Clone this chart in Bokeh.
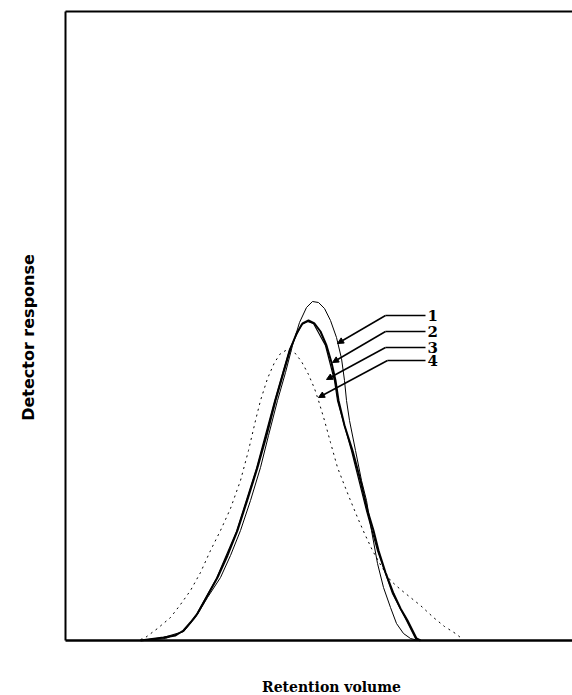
import math
from bokeh.plotting import figure
from bokeh.models import Range1d, Arrow, NormalHead
from bokeh.core.properties import value
from bokeh.embed import file_html
from bokeh.resources import INLINE

# Curve 1 (thin solid)
c1_x = [8.0, 10.0, 11.8, 13.0, 14.2, 15.5, 16.5, 17.5, 18.5, 19.5, 20.3, 21.2, 22.0, 22.7, 23.4, 24.1,
        24.7, 25.3, 25.9, 26.5, 27.1, 27.6, 27.9, 28.1, 28.4, 29.0, 29.6, 30.1, 30.6, 31.2, 31.8, 32.5,
        33.1, 33.8, 34.5, 35.3]
c1_y = [0.0, 0.2, 0.9, 2.3, 4.3, 6.3, 8.5, 11.0, 14.0, 17.3, 20.5, 24.0, 26.8, 29.5, 31.8, 33.3,
        33.9, 33.8, 33.2, 32.0, 30.3, 28.2, 26.0, 24.0, 22.0, 19.0, 16.0, 14.0, 11.0, 7.7, 5.3, 3.3,
        1.7, 0.7, 0.2, 0.0]

# Curve 2 (thick solid)
c2_x = [7.5, 9.8, 11.0, 11.8, 12.5, 13.2, 14.2, 15.2, 16.2, 17.2, 18.2, 19.2, 20.1, 21.0, 21.8, 22.5,
        23.1, 23.7, 24.3, 24.9, 25.5, 26.1, 26.6, 27.0, 27.3, 27.9, 28.7, 29.5, 30.2, 30.8, 31.3, 32.0,
        32.8, 33.5, 34.2, 34.7, 35.1, 35.5]
c2_y = [0.0, 0.3, 0.5, 1.0, 1.8, 2.7, 4.5, 6.3, 8.5, 11.0, 14.1, 17.3, 20.5, 24.0, 26.8, 29.2,
        30.7, 31.7, 32.0, 31.7, 30.9, 29.5, 27.8, 26.0, 24.0, 21.5, 19.0, 16.0, 13.0, 11.0, 9.0, 6.8,
        4.7, 3.2, 2.0, 1.0, 0.2, 0.0]

# Curve 3 (solid, nearly coincident with curve 2)
c3_x = [7.5, 9.8, 11.8, 13.1, 15.1, 17.1, 19.1, 20.9, 22.4, 23.6, 24.2, 24.8, 26.0, 26.9, 27.2, 28.6,
        30.1, 31.2, 32.7, 34.1, 35.0, 35.5]
c3_y = [0.0, 0.3, 0.9, 2.6, 6.2, 10.9, 17.2, 23.9, 29.1, 31.6, 31.9, 31.7, 29.5, 26.0, 24.0, 19.0,
        13.0, 9.0, 4.7, 2.0, 0.2, 0.0]

# Curve 4 (dotted)
c4_x = [7.5, 8.0, 9.2, 10.5, 11.5, 12.5, 13.5, 14.5, 15.5, 16.5, 17.5, 18.3, 19.0, 19.5, 20.2, 20.9,
        21.5, 22.2, 22.9, 23.6, 24.3, 24.9, 25.3, 25.9, 26.5, 27.2, 27.9, 28.5, 29.2, 29.9, 30.7, 31.6,
        32.5, 33.5, 34.5, 35.5, 36.8, 37.9, 39.0, 39.5]
c4_y = [0.1, 0.3, 1.2, 2.3, 3.6, 5.0, 6.8, 9.0, 11.0, 13.2, 16.0, 19.0, 22.0, 24.0, 26.2, 27.8,
        28.7, 29.1, 28.8, 27.9, 26.6, 25.2, 24.0, 22.0, 19.8, 17.3, 15.5, 14.0, 12.3, 10.7, 9.0, 7.4,
        6.0, 5.1, 4.3, 3.5, 2.3, 1.4, 0.7, 0.3]

# Curve labels with pointer arrows
curve_labels = ["1", "2", "3", "4"]
label_y = [32.5, 30.9, 29.3, 28.0]
arrow_tail_x = [32.0, 32.0, 32.0, 32.2]
arrow_tip_x = [27.2, 26.7, 26.1, 25.3]
arrow_tip_y = [29.7, 27.8, 26.1, 24.3]
leader_end_x = 36.0
label_x = 36.2

x_title = "Retention volume"
y_title = "Detector response"

# plotting box (axis frame) in data units
x_min, x_max = 0.0, 50.7
y_min, y_max = 0.0, 62.9

p = figure(width=572, height=695, output_backend="svg", toolbar_location=None,
           x_range=Range1d(-6.5, 50.7), y_range=Range1d(-5.5, 64.0),
           min_border=0)
p.axis.visible = False
p.grid.visible = False
p.outline_line_color = None

# box lines: left, top, bottom
p.segment(x0=[x_min], y0=[y_min], x1=[x_min], y1=[y_max], line_color="black", line_width=2)
p.segment(x0=[x_min], y0=[y_max], x1=[x_max], y1=[y_max], line_color="black", line_width=2)
p.segment(x0=[x_min], y0=[y_min], x1=[x_max], y1=[y_min], line_color="black", line_width=2.5)

# axis titles
p.text(x=[26.6], y=[-4.6], text=[x_title], text_font=value("DejaVu Serif"),
       text_font_style="bold", text_font_size="14px", text_align="center",
       text_baseline="alphabetic", text_color="black")
p.text(x=[-3.7], y=[30.3], text=[y_title], text_font=value("DejaVu Sans"),
       text_font_style="bold", text_font_size="16px", text_align="center",
       text_baseline="middle", text_color="black", angle=math.pi / 2)

p.line(c4_x, c4_y, line_color="black", line_width=1, line_dash="2 4")
p.line(c3_x, c3_y, line_color="black", line_width=1.2)
p.line(c2_x, c2_y, line_color="black", line_width=2)
p.line(c1_x, c1_y, line_color="black", line_width=1)

p.segment(x0=arrow_tail_x, y0=label_y, x1=[leader_end_x] * 4, y1=label_y,
          line_color="black", line_width=1.5)
for tx, ty, hx, hy in zip(arrow_tail_x, label_y, arrow_tip_x, arrow_tip_y):
    p.add_layout(Arrow(end=NormalHead(size=6, fill_color="black", line_color="black"),
                       x_start=tx, y_start=ty, x_end=hx, y_end=hy,
                       line_color="black", line_width=1.5))

p.text(x=[label_x] * 4, y=label_y, text=curve_labels, text_font=value("DejaVu Serif"),
       text_font_style="bold", text_font_size="15px", text_align="left",
       text_baseline="middle", text_color="black")

open("out.html", "w").write(file_html(p, INLINE))
